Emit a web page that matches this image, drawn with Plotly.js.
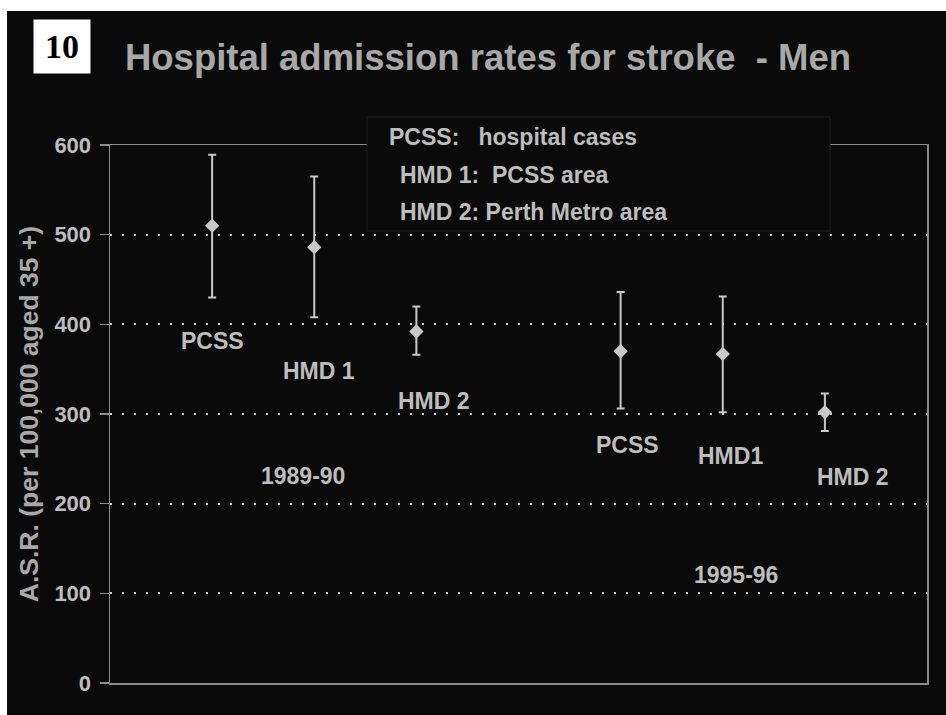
<!DOCTYPE html>
<html>
<head>
<meta charset="utf-8">
<script src="https://cdn.plot.ly/plotly-3.0.1.min.js"></script>
<style>
html,body{margin:0;padding:0;background:#ffffff;width:946px;height:715px;overflow:hidden;}
#chart{position:absolute;left:7px;top:11px;width:939px;height:704px;}
</style>
</head>
<body>
<div id="chart"></div>
<script>
// ---- data ----
const groupLabels = ["PCSS", "HMD 1", "HMD 2", "PCSS", "HMD1", "HMD 2"];
const periods = ["1989-90", "1995-96"];
const xPos = [1, 2, 3, 5, 6, 7];
const asr = [510, 486, 392, 370, 367, 302];
const upperCI = [589, 565, 420, 436, 431, 323];
const lowerCI = [430, 408, 366, 306, 302, 281];
const yTicks = [0, 100, 200, 300, 400, 500, 600];
const legendLines = ["PCSS:\u00a0\u00a0\u00a0hospital cases", "HMD 1:\u00a0\u00a0PCSS area", "HMD 2: Perth Metro area"];

// label positions (data coordinates) for point labels and period labels
const labelX = [1.0, 2.05, 3.17, 5.07, 6.08, 7.28];
const labelY = [381, 348, 315, 265, 253, 230];
const periodX = [1.89, 6.13];
const periodY = [231, 120];

const SANS = "Liberation Sans, Arial, sans-serif";
const txtCol = "#bdbdbd";
const bg = "#0a0a0a";

const trace = {
  type: "scatter",
  mode: "markers",
  x: xPos,
  y: asr,
  marker: {symbol: "diamond", size: 11, color: "#c8c8c8"},
  error_y: {
    type: "data",
    symmetric: false,
    array: asr.map((v, i) => upperCI[i] - v),
    arrayminus: asr.map((v, i) => v - lowerCI[i]),
    color: "#c8c8c8",
    thickness: 2,
    width: 4
  },
  hoverinfo: "x+y",
  showlegend: false
};

const annotations = [];
groupLabels.forEach((t, i) => {
  annotations.push({
    xref: "x", yref: "y", x: labelX[i], y: labelY[i], text: t, showarrow: false,
    xanchor: "center", yanchor: "middle",
    font: {family: SANS, size: 23, color: txtCol, weight: "bold"}
  });
});
periods.forEach((t, i) => {
  annotations.push({
    xref: "x", yref: "y", x: periodX[i], y: periodY[i], text: t, showarrow: false,
    xanchor: "center", yanchor: "middle",
    font: {family: SANS, size: 23, color: txtCol, weight: "bold"}
  });
});
// legend-like text block
const legX = [(387 - 110) / 817, (398 - 110) / 817, (398 - 110) / 817];
const legY = [(683 - 137.5) / 538, (683 - 174.5) / 538, (683 - 212) / 538];
legendLines.forEach((t, i) => {
  annotations.push({
    xref: "paper", yref: "paper", x: legX[i], y: legY[i], text: t, showarrow: false,
    xanchor: "left", yanchor: "middle",
    font: {family: SANS, size: 23, color: txtCol, weight: "bold"}
  });
});
// slide number box
annotations.push({
  xref: "paper", yref: "paper", x: (62 - 110) / 817, y: (683 - 46.5) / 538,
  text: "10", showarrow: false, xanchor: "center", yanchor: "middle",
  width: 56, height: 53, bgcolor: "#ffffff", borderpad: 0,
  font: {family: "Liberation Serif, Times New Roman, serif", size: 34, color: "#000000", weight: "bold"}
});

const layout = {
  width: 939,
  height: 704,
  paper_bgcolor: bg,
  plot_bgcolor: bg,
  margin: {l: 103, r: 19, t: 134, b: 32, pad: 0},
  title: {
    text: "Hospital admission rates for stroke\u00a0\u00a0- Men",
    font: {family: SANS, size: 36.5, color: "#a8a8a8", weight: "bold"},
    xref: "container", yref: "container",
    x: 481 / 939, xanchor: "center",
    y: 1 - 46 / 704, yanchor: "middle"
  },
  xaxis: {
    range: [0, 8],
    showgrid: false, zeroline: false,
    showticklabels: false, ticks: "",
    showline: true, mirror: true, linecolor: "#8c8c8c", linewidth: 1.5,
    fixedrange: true
  },
  yaxis: {
    range: [0, 600],
    tickvals: yTicks,
    ticktext: yTicks.map(String),
    showgrid: true, gridcolor: "#d0d0d0", griddash: "2px,10px", gridwidth: 2,
    zeroline: false,
    showline: true, mirror: true, linecolor: "#8c8c8c", linewidth: 1.5,
    ticks: "outside", ticklen: 9, tickcolor: "#8c8c8c", tickwidth: 1.5,
    ticklabelstandoff: 4,
    tickfont: {family: SANS, size: 22, color: txtCol, weight: "bold"},
    title: {
      text: "A.S.R. (per 100,000 aged 35 +)",
      font: {family: SANS, size: 26.5, color: "#a8a8a8", weight: "bold"},
      standoff: 8
    },
    fixedrange: true
  },
  shapes: [{
    type: "rect", xref: "paper", yref: "paper", layer: "above",
    x0: (367 - 110) / 817, x1: (830 - 110) / 817,
    y0: (683 - 231) / 538, y1: (683 - 117) / 538,
    fillcolor: bg, line: {color: "#1e1e1e", width: 1}
  }],
  annotations: annotations
};

Plotly.newPlot("chart", [trace], layout, {displayModeBar: false, staticPlot: true});
</script>
</body>
</html>
